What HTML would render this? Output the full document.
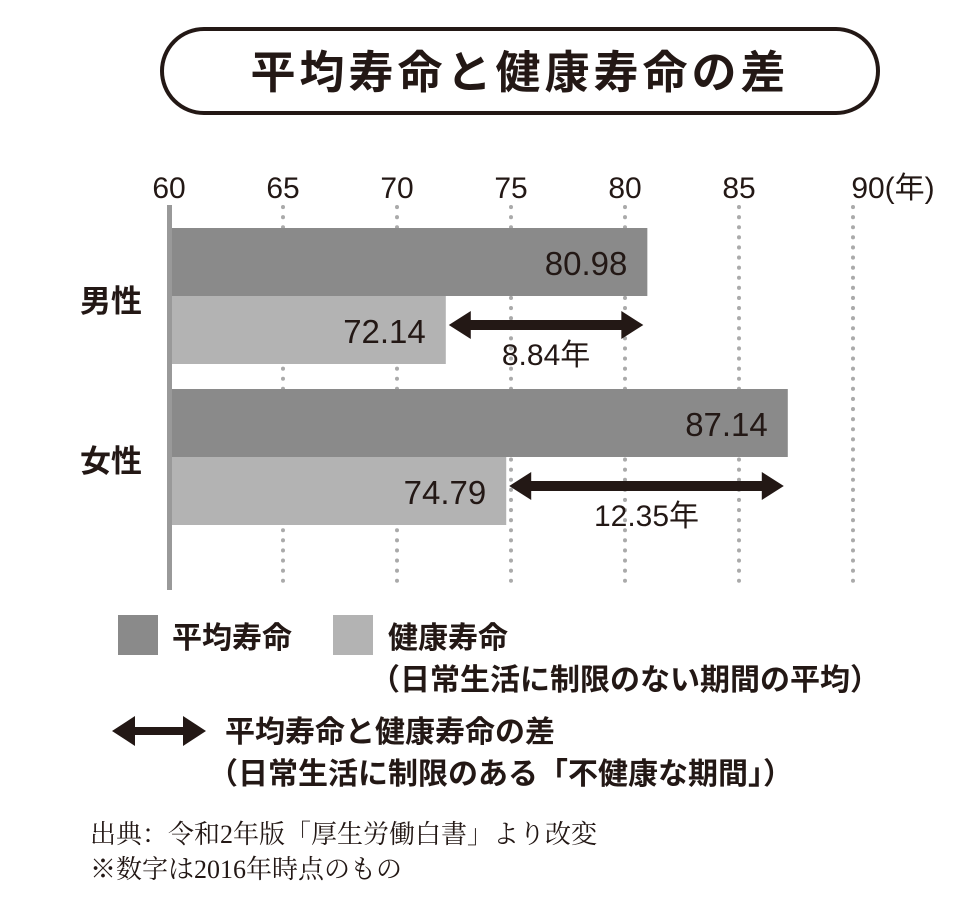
<!DOCTYPE html>
<html><head><meta charset="utf-8">
<style>
body{margin:0;background:#fff;width:979px;height:920px;overflow:hidden;font-family:"Liberation Sans","Noto Sans CJK JP",sans-serif;color:#231815}
svg{display:block}
</style></head><body>
<svg width="979" height="920" id="c">
<rect x="162" y="29" width="716" height="84" rx="42" fill="#fff" stroke="#231815" stroke-width="4"/>
<text x="520" y="88" text-anchor="middle" font-size="45" font-weight="bold" letter-spacing="4" fill="#231815">平均寿命と健康寿命の差</text>
<g id="grid"></g><g id="bars"></g><g id="ann"></g>
<rect x="167" y="205" width="5" height="385" fill="#999"/>
<text x="80" y="312" font-size="31" font-weight="bold" fill="#231815">男性</text>
<text x="80" y="472" font-size="31" font-weight="bold" fill="#231815">女性</text>
<g font-size="30" font-weight="bold" fill="#231815">
<rect x="118" y="615" width="40" height="40" fill="#8a8a8a"/>
<text x="172" y="648">平均寿命</text>
<rect x="333" y="615" width="40" height="40" fill="#b3b3b3"/>
<text x="388" y="648">健康寿命</text>
<text x="370" y="690">（日常生活に制限のない期間の平均）</text>
<polygon points="112,731 135,716 135,727 183,727 183,716 206,731 183,746 183,735 135,735 135,746" fill="#231815"/>
<text x="225" y="742">平均寿命と健康寿命の差</text>
<text x="208" y="784">（日常生活に制限のある「不健康な期間」）</text>
</g>
<text x="90" y="843" font-size="26" font-family="Liberation Serif,Noto Serif CJK SC,serif" fill="#231815">出典：令和2年版「厚生労働白書」より改変</text>
<text x="90" y="878" font-size="26" font-family="Liberation Serif,Noto Serif CJK SC,serif" fill="#231815">※数字は2016年時点のもの</text>
</svg>
<script>
const categories=["男性","女性"];
const avgLife=[80.98,87.14];
const healthyLife=[72.14,74.79];
const ticks=[60,65,70,75,80,85,90];
const x=v=>169+(v-60)*22.8;
const rowTop=[228,389];
const NS="http://www.w3.org/2000/svg";
function mk(tag,attrs,parent,text){const e=document.createElementNS(NS,tag);for(const k in attrs)e.setAttribute(k,attrs[k]);if(text!==undefined)e.textContent=text;parent.appendChild(e);return e;}
const grid=document.getElementById('grid'),bars=document.getElementById('bars'),ann=document.getElementById('ann');
ticks.forEach((t,i)=>{
  const lb=mk('text',{x:x(t),y:198,'text-anchor':'middle','font-size':30,fill:'#231815'},grid,t+(i===ticks.length-1?'':''));
  
  
  if(i===ticks.length-1){lb.textContent=t+'(年)';lb.setAttribute('x',x(t)+40);}
  if(i>0){const l=mk('line',{x1:x(t),x2:x(t),y1:207,y2:590,stroke:'#aaa','stroke-width':4,'stroke-dasharray':'0.1 10','stroke-linecap':'round'},grid);
  
  }
});
categories.forEach((c,i)=>{
  const t=rowTop[i];
  const a=mk('rect',{x:172,y:t,width:x(avgLife[i])-172,height:68,fill:'#8a8a8a'},bars);
  
  
  const h=mk('rect',{x:172,y:t+68,width:x(healthyLife[i])-172,height:68,fill:'#b3b3b3'},bars);
  
  
  const at=mk('text',{x:x(avgLife[i])-20,y:t+47,'text-anchor':'end','font-size':33,fill:'#231815'},bars,avgLife[i].toFixed(2));
  
  
  const ht=mk('text',{x:x(healthyLife[i])-20,y:t+115,'text-anchor':'end','font-size':33,fill:'#231815'},bars,healthyLife[i].toFixed(2));
  
  
  const x1=x(healthyLife[i])+3,x2=x(avgLife[i])-4,y=t+97;
  const p=mk('polygon',{points:`${x1},${y} ${x1+22},${y-14} ${x1+22},${y-5} ${x2-22},${y-5} ${x2-22},${y-14} ${x2},${y} ${x2-22},${y+14} ${x2-22},${y+5} ${x1+22},${y+5} ${x1+22},${y+14}`,fill:'#231815'},ann);
  
  
  const g=(avgLife[i]-healthyLife[i]).toFixed(2);
  const gt=mk('text',{x:(x1+x2)/2,y:y+40,'text-anchor':'middle','font-size':30,fill:'#231815'},ann,g+'年');
  
  
});
</script>
</body></html>
